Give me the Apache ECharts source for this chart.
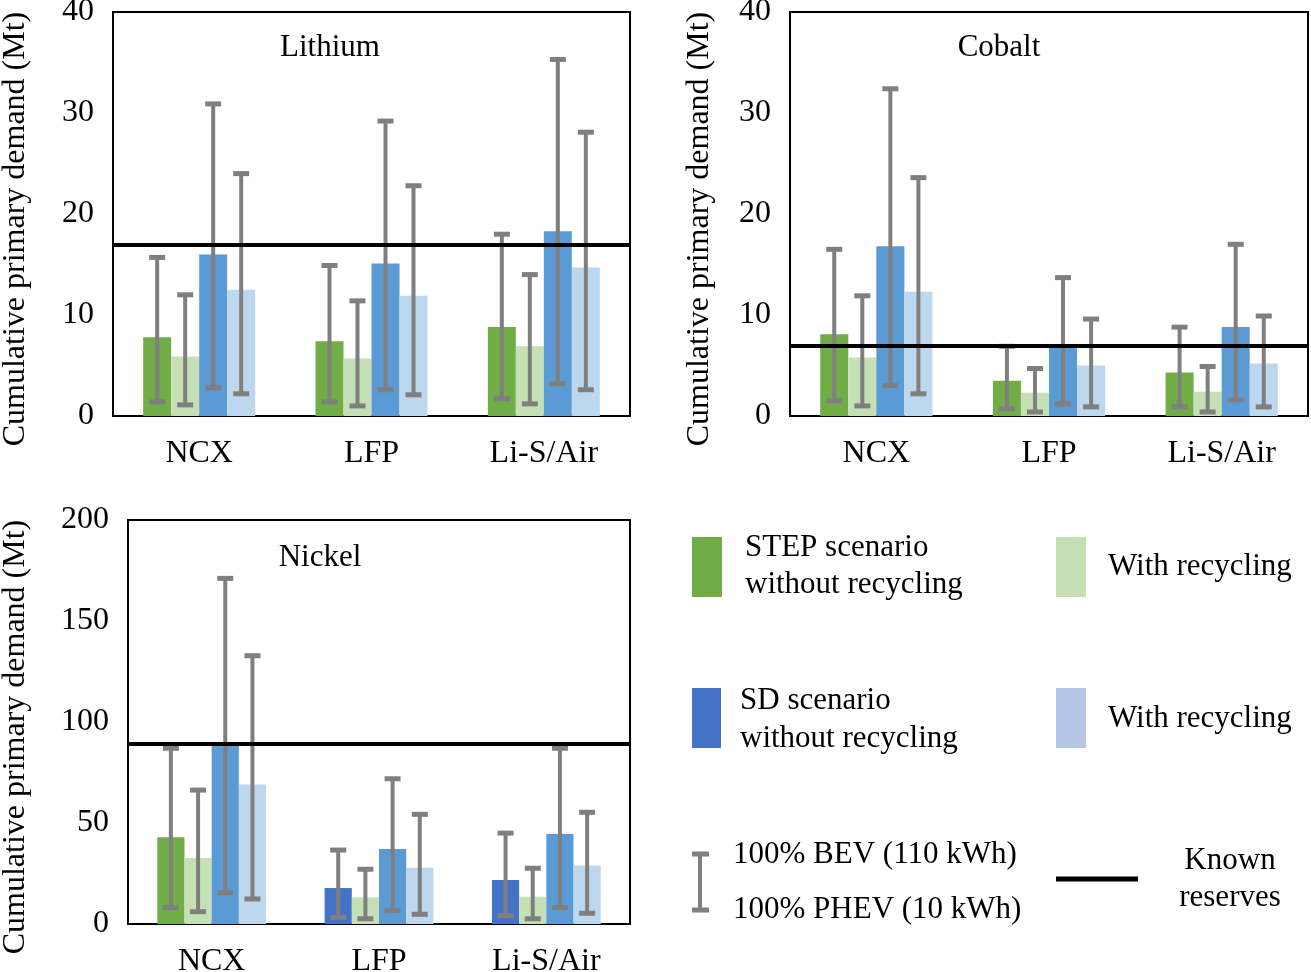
<!DOCTYPE html>
<html>
<head>
<meta charset="utf-8">
<script src="https://cdn.jsdelivr.net/npm/echarts@6/dist/echarts.min.js"></script>
<style>
  html, body { margin: 0; padding: 0; background: #fff; }
  #chart { width: 1311px; height: 972px; }
</style>
</head>
<body>
<div id="chart"></div>
<script>
// categories on every panel
const categories = ['NCX', 'LFP', 'Li-S/Air'];

// Lithium (Mt)
const liStep = [7.8, 7.4, 8.8];
const liStepRec = [5.9, 5.7, 6.9];
const liSd = [16.0, 15.1, 18.3];
const liSdRec = [12.5, 11.9, 14.7];
const liStepErr = [[1.4, 15.7], [1.4, 14.9], [1.7, 18.0]];
const liStepRecErr = [[1.1, 12.0], [1.0, 11.4], [1.2, 14.0]];
const liSdErr = [[2.8, 30.9], [2.6, 29.2], [3.2, 35.3]];
const liSdRecErr = [[2.2, 24.0], [2.1, 22.8], [2.6, 28.1]];
const liReserve = 17.0;

// Cobalt (Mt)
const coStep = [8.1, 3.5, 4.3];
const coStepRec = [5.8, 2.3, 2.4];
const coSd = [16.8, 6.9, 8.8];
const coSdRec = [12.3, 5.0, 5.2];
const coStepErr = [[1.5, 16.5], [0.7, 6.9], [0.9, 8.8]];
const coStepRecErr = [[1.0, 11.9], [0.4, 4.7], [0.4, 4.9]];
const coSdErr = [[3.0, 32.4], [1.2, 13.7], [1.6, 17.0]];
const coSdRecErr = [[2.2, 23.6], [0.9, 9.6], [0.9, 9.9]];
const coReserve = 7.0;

// Nickel (Mt)
const niStep = [42.9, 17.8, 21.8];
const niStepRec = [32.7, 13.2, 13.5];
const niSd = [88.6, 37.1, 44.6];
const niSdRec = [69.1, 27.9, 28.9];
const niStepErr = [[8.1, 87.0], [3.3, 36.6], [4.1, 45.0]];
const niStepRecErr = [[6.1, 66.3], [2.6, 27.1], [2.6, 27.6]];
const niSdErr = [[15.5, 171.1], [6.6, 71.9], [8.1, 87.0]];
const niSdRecErr = [[12.4, 132.8], [4.8, 54.3], [5.3, 55.3]];
const niReserve = 89.0;
// the first bar of LFP and Li-S/Air is drawn in the darker blue in the source
const niStepColors = ['#70ad47', '#4472c4', '#4472c4'];

const FONT = 'Liberation Serif';
const GREEN = '#70ad47', LGREEN = '#c5e0b4', BLUE = '#5b9bd5', LBLUE = '#bdd7ee';
const ERR = '#7f7f7f';
const GAP = 0.35;

function errRender(slot) {
    return function (params, api) {
        const x = api.value(0);
        const band = api.size([1, 0])[0];
        const bw = band * (1 - GAP) / 4;
        const lo = api.coord([x, api.value(1)]);
        const hi = api.coord([x, api.value(2)]);
        const cx = lo[0] + (slot - 1.5) * bw;
        return {
            type: 'group',
            children: [
                { type: 'line', shape: { x1: cx, y1: lo[1], x2: cx, y2: hi[1] }, style: { stroke: ERR, lineWidth: 4 } },
                { type: 'line', shape: { x1: cx - 8, y1: lo[1], x2: cx + 8, y2: lo[1] }, style: { stroke: ERR, lineWidth: 5 } },
                { type: 'line', shape: { x1: cx - 8, y1: hi[1], x2: cx + 8, y2: hi[1] }, style: { stroke: ERR, lineWidth: 5 } },
            ],
        };
    };
}

function panelSeries(idx, bars, errs, colors, reserve) {
    let out = [];
    bars.forEach((vals, i) => {
        out.push({
            type: 'bar',
            xAxisIndex: idx,
            yAxisIndex: idx,
            barGap: '0%',
            barCategoryGap: '35%',
            data: vals.map((v, k) => (Array.isArray(colors[i]) ? { value: v, itemStyle: { color: colors[i][k] } } : v)),
            itemStyle: { color: Array.isArray(colors[i]) ? colors[i][0] : colors[i] },
            silent: true,
            z: 2,
        });
    });
    errs.forEach((e, i) => {
        out.push({
            type: 'custom',
            xAxisIndex: idx,
            yAxisIndex: idx,
            renderItem: errRender(i),
            data: e.map((p, k) => [k, p[0], p[1]]),
            silent: true,
            z: 3,
        });
    });
    out.push({
        type: 'line',
        xAxisIndex: idx,
        yAxisIndex: idx,
        data: [],
        z: 5,
        markLine: {
            silent: true,
            symbol: 'none',
            label: { show: false },
            lineStyle: { color: '#000', width: 4, type: 'solid' },
            data: [{ yAxis: reserve }],
        },
    });
    return out;
}

const grids = [
    { left: 113, top: 12, width: 517, height: 404 },
    { left: 790, top: 12, width: 518, height: 404 },
    { left: 128, top: 520, width: 502, height: 404 },
];

let xAxes = grids.map((g, i) => ({
    type: 'category',
    gridIndex: i,
    data: categories,
    axisTick: { show: false },
    axisLine: { lineStyle: { color: '#000', width: 2 } },
    axisLabel: { color: '#000', fontFamily: FONT, fontSize: 32, margin: 22 },
}));

let yAxes = grids.map((g, i) => ({
    type: 'value',
    gridIndex: i,
    min: 0,
    max: i === 2 ? 200 : 40,
    interval: i === 2 ? 50 : 10,
    splitLine: { show: false },
    axisTick: { show: false },
    axisLine: { show: true, lineStyle: { color: '#000', width: 2 } },
    axisLabel: { color: '#000', fontFamily: FONT, fontSize: 32, margin: 19 },
}));

const yName = 'Cumulative primary demand (Mt)';
const txt = (x, y, text, extra) => ({
    type: 'text', x: x, y: y,
    style: Object.assign({ text: text, fill: '#000', font: '31px "' + FONT + '"' }, extra || {}),
});
const rect = (x, y, w, h, color) => ({ type: 'rect', shape: { x: x, y: y, width: w, height: h }, style: { fill: color } });

let graphic = [
    txt(16, 229, yName, { align: 'center', verticalAlign: 'middle', font: '32px "' + FONT + '"' }),
    txt(700, 229, yName, { align: 'center', verticalAlign: 'middle', font: '32px "' + FONT + '"' }),
    txt(16, 737, yName, { align: 'center', verticalAlign: 'middle', font: '32px "' + FONT + '"' }),
    // legend
    rect(692, 537, 30, 60, GREEN),
    txt(745, 548, 'STEP scenario', { verticalAlign: 'middle' }),
    txt(745, 585, 'without recycling', { verticalAlign: 'middle' }),
    rect(1056, 537, 30, 60, LGREEN),
    txt(1108, 567, 'With recycling', { verticalAlign: 'middle' }),
    rect(692, 688, 29, 60, '#4472c4'),
    txt(740, 701, 'SD scenario', { verticalAlign: 'middle' }),
    txt(740, 739, 'without recycling', { verticalAlign: 'middle' }),
    rect(1056, 688, 30, 60, '#b4c7e7'),
    txt(1108, 719, 'With recycling', { verticalAlign: 'middle' }),
    { type: 'line', shape: { x1: 700, y1: 854, x2: 700, y2: 910 }, style: { stroke: ERR, lineWidth: 4 } },
    { type: 'line', shape: { x1: 692, y1: 854, x2: 709, y2: 854 }, style: { stroke: ERR, lineWidth: 5 } },
    { type: 'line', shape: { x1: 692, y1: 910, x2: 709, y2: 910 }, style: { stroke: ERR, lineWidth: 5 } },
    txt(733, 855, '100% BEV (110 kWh)', { verticalAlign: 'middle' }),
    txt(733, 910, '100% PHEV (10 kWh)', { verticalAlign: 'middle' }),
    { type: 'line', shape: { x1: 1056, y1: 879, x2: 1138, y2: 879 }, style: { stroke: '#000', lineWidth: 5 } },
    txt(1230, 861, 'Known', { align: 'center', verticalAlign: 'middle' }),
    txt(1230, 898, 'reserves', { align: 'center', verticalAlign: 'middle' }),
];
graphic[0].rotation = Math.PI / 2;
graphic[1].rotation = Math.PI / 2;
graphic[2].rotation = Math.PI / 2;

const titleStyle = { color: '#000', fontFamily: FONT, fontSize: 31, fontWeight: 'normal' };

let option = {
    animation: false,
    backgroundColor: '#fff',
    title: [
        { text: 'Lithium', left: 325, top: 27, textAlign: 'center', textStyle: titleStyle },
        { text: 'Cobalt', left: 994, top: 27, textAlign: 'center', textStyle: titleStyle },
        { text: 'Nickel', left: 315, top: 537, textAlign: 'center', textStyle: titleStyle },
    ],
    // outerBoundsMode none: keep the plot boxes where they are even if labels touch the canvas edge
    grid: grids.map((g) => Object.assign({ show: true, borderColor: '#000', borderWidth: 2, backgroundColor: 'transparent', outerBoundsMode: 'none', containLabel: false }, g)),
    xAxis: xAxes,
    yAxis: yAxes,
    graphic: graphic,
    series: [].concat(
        panelSeries(0, [liStep, liStepRec, liSd, liSdRec], [liStepErr, liStepRecErr, liSdErr, liSdRecErr], [GREEN, LGREEN, BLUE, LBLUE], liReserve),
        panelSeries(1, [coStep, coStepRec, coSd, coSdRec], [coStepErr, coStepRecErr, coSdErr, coSdRecErr], [GREEN, LGREEN, BLUE, LBLUE], coReserve),
        panelSeries(2, [niStep, niStepRec, niSd, niSdRec], [niStepErr, niStepRecErr, niSdErr, niSdRecErr], [niStepColors, LGREEN, BLUE, LBLUE], niReserve)
    ),
};

let chart = echarts.init(document.getElementById('chart'));
chart.setOption(option);
</script>
</body>
</html>
